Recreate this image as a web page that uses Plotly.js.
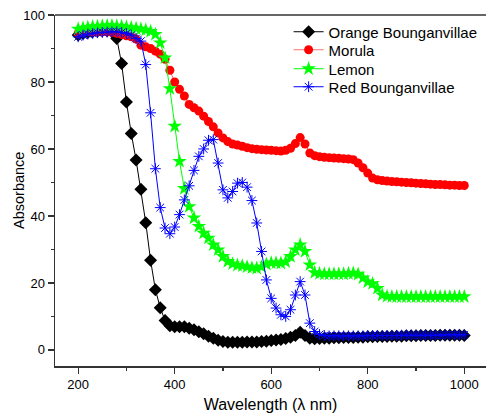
<!DOCTYPE html>
<html>
<head>
<meta charset="utf-8">
<script src="https://cdn.plot.ly/plotly-3.0.1.min.js"></script>
<style>
html,body{margin:0;padding:0;background:#fff;}
#chart{width:486px;height:413px;}
</style>
</head>
<body>
<div id="chart"></div>
<script>
const wavelength = [200,210,220,230,240,250,260,270,280,290,300,310,320,330,340,350,360,370,380,390,400,410,420,430,440,450,460,470,480,490,500,510,520,530,540,550,560,570,580,590,600,610,620,630,640,650,660,670,680,690,700,710,720,730,740,750,760,770,780,790,800,810,820,830,840,850,860,870,880,890,900,910,920,930,940,950,960,970,980,990,1000];

const orangeBouganvillae = [94.0,94.5,94.8,95.0,95.2,95.3,95.3,95.0,93.0,85.5,74.0,64.6,56.7,48.0,38.0,26.8,18.0,12.6,8.8,7.2,6.9,6.9,6.9,6.5,6.0,5.4,4.8,4.1,3.5,2.9,2.5,2.3,2.3,2.3,2.3,2.4,2.4,2.4,2.5,2.6,2.8,3.0,3.1,3.4,3.8,4.3,5.3,4.3,3.5,3.3,3.4,3.5,3.5,3.6,3.6,3.7,3.7,3.7,3.8,3.8,3.9,3.9,4.0,4.0,4.0,4.1,4.1,4.1,4.2,4.2,4.2,4.3,4.3,4.3,4.3,4.4,4.4,4.4,4.4,4.4,4.3];

const morula = [94.5,94.8,95.0,95.0,95.0,95.0,95.0,94.8,94.5,94.2,93.8,93.5,92.8,91.0,90.5,90.0,89.2,88.3,86.8,83.5,80.0,77.8,75.8,73.3,72.3,71.3,69.8,68.2,66.6,64.8,63.3,62.2,61.5,61.2,60.8,60.4,60.1,59.9,59.8,59.7,59.6,59.5,59.4,59.6,60.2,61.6,63.4,61.5,58.8,58.0,57.7,57.5,57.4,57.3,57.2,57.1,57.0,56.8,55.8,54.4,52.8,51.3,50.8,50.6,50.4,50.3,50.2,50.1,50.0,49.9,49.8,49.7,49.6,49.5,49.4,49.4,49.3,49.2,49.2,49.1,49.1];

const lemon = [95.8,96.1,96.3,96.5,96.6,96.7,96.8,96.8,96.7,96.6,96.4,96.2,96.0,95.8,95.5,95.1,94.2,91.7,87.2,78.0,66.8,56.3,48.2,42.8,39.4,36.9,34.9,33.4,31.4,29.9,27.9,26.4,25.7,25.3,25.1,24.8,24.5,24.4,24.8,25.6,26.0,26.0,25.9,26.3,27.9,29.9,31.4,29.4,25.4,23.1,22.8,22.7,22.7,22.7,22.7,22.7,22.8,22.9,22.6,21.5,20.3,19.8,18.4,16.4,16.0,15.9,15.9,15.9,15.9,15.9,15.9,15.9,15.9,15.9,15.9,15.9,15.9,15.9,15.9,15.9,15.9];

const redBouganvillae = [93.5,94.0,94.3,94.5,94.7,94.8,94.9,95.0,95.0,94.8,94.5,94.0,93.0,92.2,85.2,70.8,54.1,42.5,36.4,34.7,36.7,40.4,44.8,49.0,53.6,57.8,60.0,62.6,62.8,55.8,47.8,45.4,47.3,49.8,50.0,48.6,44.6,37.9,29.4,20.9,15.4,12.5,10.5,10.0,12.0,16.4,20.4,16.4,8.0,5.5,4.6,4.3,4.2,4.2,4.2,4.2,4.2,4.2,4.2,4.2,4.3,4.3,4.3,4.3,4.3,4.3,4.3,4.4,4.4,4.4,4.4,4.4,4.4,4.4,4.4,4.4,4.5,4.5,4.5,4.5,4.5];

const seriesNames = ["Orange Bounganvillae","Morula","Lemon","Red Bounganvillae"];
const xTicks = [200,400,600,800,1000];
const yTicks = [0,20,40,60,80,100];

const FONT = 'Liberation Sans, Arial, sans-serif';

const traces = [
  {x: wavelength, y: orangeBouganvillae, name: seriesNames[0], legend:'legend', type:'scatter', mode:'lines+markers',
   line:{color:'#000000', width:1}, marker:{symbol:'diamond', size:10, color:'#000000'}},
  {x: wavelength, y: morula, name: seriesNames[1], legend:'legend2', type:'scatter', mode:'lines+markers',
   line:{color:'#ff7070', width:1}, marker:{symbol:'circle', size:9, color:'#ff0000'}},
  {x: wavelength, y: lemon, name: seriesNames[2], legend:'legend3', type:'scatter', mode:'lines+markers',
   line:{color:'#00ff00', width:1}, marker:{symbol:'star', size:11, color:'#00ff00'}},
  {x: wavelength, y: redBouganvillae, name: seriesNames[3], legend:'legend4', type:'scatter', mode:'lines+markers',
   line:{color:'#0000ff', width:1}, marker:{symbol:'asterisk-open', size:9, color:'#0000ff', line:{color:'#0000ff', width:1}}}
];

const axisFont = {family:FONT, size:13, color:'#000'};
function legendAt(yp){
  return {x:0.542, y:yp, xanchor:'left', yanchor:'middle', bgcolor:'rgba(0,0,0,0)', borderwidth:0,
          font:{family:FONT, size:15, color:'#000'}};
}

const layout = {
  width:486, height:413,
  margin:{l:55, r:0, t:15, b:47},
  paper_bgcolor:'#fff', plot_bgcolor:'#fff',
  font:{family:FONT, color:'#000'},
  showlegend:true,
  legend:legendAt(0.9516),
  legend2:legendAt(0.9003),
  legend3:legendAt(0.8462),
  legend4:legendAt(0.7949),
  xaxis:{range:[152,1045], tickvals:xTicks, ticktext:xTicks.map(String), ticks:'outside', ticklen:6, tickwidth:1.2,
         tickcolor:'#333', showline:true, linecolor:'#333', linewidth:1.5, showgrid:false, zeroline:false,
         tickfont:axisFont,
         minor:{tickvals:[300,500,700,900], ticks:'outside', ticklen:3, tickwidth:1.2, tickcolor:'#333', showgrid:false},
         title:{text:'Wavelength (λ nm)', font:{family:FONT, size:16, color:'#000'}, standoff:7}},
  yaxis:{range:[-4.8,100], tickvals:yTicks, ticktext:yTicks.map(String), ticks:'outside', ticklen:6, tickwidth:1.2,
         tickcolor:'#333', showline:true, linecolor:'#333', linewidth:1.5, showgrid:false, zeroline:false,
         tickfont:axisFont,
         minor:{tickvals:[10,30,50,70,90], ticks:'outside', ticklen:3, tickwidth:1.2, tickcolor:'#333', showgrid:false}},
  annotations:[{text:'Absorbance', xref:'paper', yref:'paper', x:-0.0847, y:0.5, xanchor:'center', yanchor:'middle',
                textangle:-90, showarrow:false, font:{family:FONT, size:14.5, color:'#000'}}],
  shapes:[{type:'line', xref:'paper', yref:'paper', x0:0, x1:1, y0:1, y1:1, line:{color:'#333', width:1.5}}]
};

Plotly.newPlot('chart', traces, layout, {displayModeBar:false, staticPlot:true});
</script>
</body>
</html>
